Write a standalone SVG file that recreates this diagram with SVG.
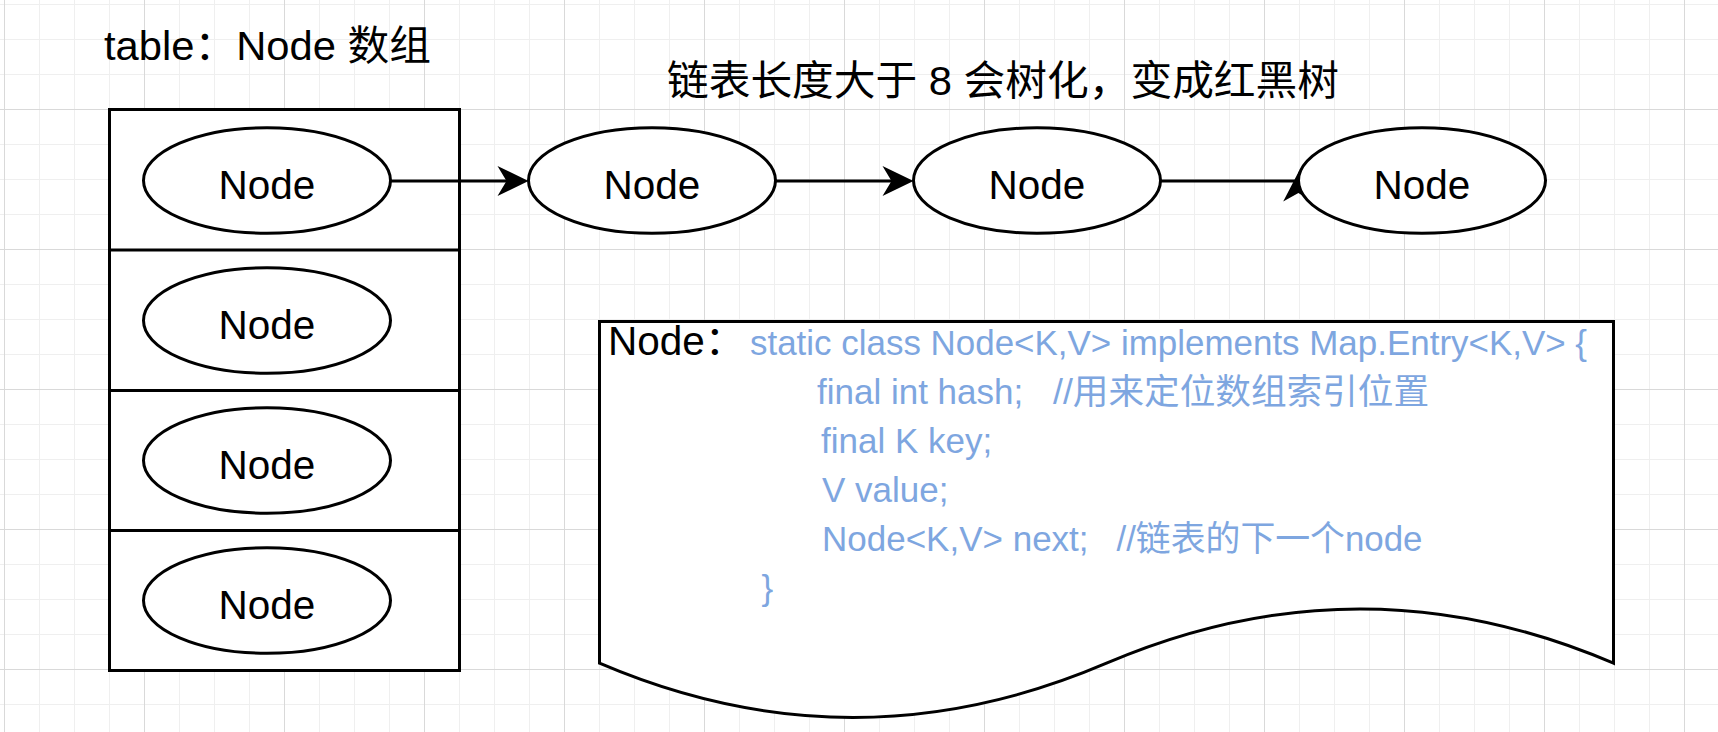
<svg xmlns="http://www.w3.org/2000/svg" width="1718" height="732" viewBox="0 0 1718 732">
<style>
.bg{fill:#ffffff}
.minor{stroke:#efefef;stroke-width:1;fill:none}
.major{stroke:#d9d9d9;stroke-width:1;fill:none}
.shape{fill:#ffffff;stroke:#000000;stroke-width:3}
.line{fill:none;stroke:#000000;stroke-width:3}
.edge{fill:none;stroke:#000000;stroke-width:3}
.head{fill:#000000;stroke:none}
.txt{font-family:"Liberation Sans","Noto Sans CJK SC",sans-serif;fill:#000000}
.lbl{font-size:40.5px;text-anchor:middle}
.title{font-size:41px}
.code{font-family:"Liberation Sans","Noto Sans CJK SC",sans-serif;font-size:35px;fill:#7EA6E0}
</style>
<defs>
<path id="ah" d="M0,0 L-31,-15 L-22,0 L-31,15 Z"/>
</defs>
<rect class="bg" x="0" y="0" width="1718" height="732"/>
<g id="grid">
<path class="minor" d="M39.5,0V732M74.5,0V732M109.5,0V732M179.5,0V732M214.5,0V732M249.5,0V732M319.5,0V732M354.5,0V732M389.5,0V732M459.5,0V732M494.5,0V732M529.5,0V732M599.5,0V732M634.5,0V732M669.5,0V732M739.5,0V732M774.5,0V732M809.5,0V732M879.5,0V732M914.5,0V732M949.5,0V732M1019.5,0V732M1054.5,0V732M1089.5,0V732M1159.5,0V732M1194.5,0V732M1229.5,0V732M1299.5,0V732M1334.5,0V732M1369.5,0V732M1439.5,0V732M1474.5,0V732M1509.5,0V732M1579.5,0V732M1614.5,0V732M1649.5,0V732M0,4.5H1718M0,39.5H1718M0,74.5H1718M0,144.5H1718M0,179.5H1718M0,214.5H1718M0,284.5H1718M0,319.5H1718M0,354.5H1718M0,424.5H1718M0,459.5H1718M0,494.5H1718M0,564.5H1718M0,599.5H1718M0,634.5H1718M0,704.5H1718"/>
<path class="major" d="M4.5,0V732M144.5,0V732M284.5,0V732M424.5,0V732M564.5,0V732M704.5,0V732M844.5,0V732M984.5,0V732M1124.5,0V732M1264.5,0V732M1404.5,0V732M1544.5,0V732M1684.5,0V732M0,109.5H1718M0,249.5H1718M0,389.5H1718M0,529.5H1718M0,669.5H1718"/>
</g>
<g id="table">
<rect class="shape" x="109.5" y="109.5" width="350" height="561"/>
<path class="line" d="M109.5,250H459.5M109.5,390.5H459.5M109.5,530.5H459.5"/>
</g>
<g id="connectors">
<path class="edge" d="M390.5,181H507"/>
<use href="#ah" class="head" transform="translate(528.5,181)"/>
<path class="edge" d="M775.5,181H892"/>
<use href="#ah" class="head" transform="translate(913.5,181)"/>
<path class="edge" d="M1160.5,181H1298"/>
<use href="#ah" class="head" transform="translate(1299,171) rotate(-88.5)"/>
</g>
<g id="node-cell-1">
<ellipse class="shape" cx="267" cy="180.5" rx="123.5" ry="52.8"/>
<text class="txt lbl" x="267" y="199">Node</text>
</g>
<g id="node-cell-2">
<ellipse class="shape" cx="267" cy="320.5" rx="123.5" ry="52.8"/>
<text class="txt lbl" x="267" y="339">Node</text>
</g>
<g id="node-cell-3">
<ellipse class="shape" cx="267" cy="460.5" rx="123.5" ry="52.8"/>
<text class="txt lbl" x="267" y="479">Node</text>
</g>
<g id="node-cell-4">
<ellipse class="shape" cx="267" cy="600.5" rx="123.5" ry="52.8"/>
<text class="txt lbl" x="267" y="619">Node</text>
</g>
<g id="node-chain-1">
<ellipse class="shape" cx="652" cy="180.5" rx="123.5" ry="52.8"/>
<text class="txt lbl" x="652" y="199">Node</text>
</g>
<g id="node-chain-2">
<ellipse class="shape" cx="1037" cy="180.5" rx="123.5" ry="52.8"/>
<text class="txt lbl" x="1037" y="199">Node</text>
</g>
<g id="node-chain-3">
<ellipse class="shape" cx="1422" cy="180.5" rx="123.5" ry="52.8"/>
<text class="txt lbl" x="1422" y="199">Node</text>
</g>
<g id="node-doc">
<path class="shape" d="M599.5,321.5H1613.5V663.2Q1360,554.7 1106.5,663.2Q853,771.7 599.5,663.2Z"/>
<text class="txt" font-size="40.5" x="608" y="355">Node：</text>
<text class="code" x="750" y="355" textLength="837" lengthAdjust="spacingAndGlyphs">static class Node&lt;K,V&gt; implements Map.Entry&lt;K,V&gt; {</text>
<text class="code" y="404"><tspan x="817">final int hash;</tspan><tspan x="1053" textLength="376" lengthAdjust="spacingAndGlyphs">//用来定位数组索引位置</tspan></text>
<text class="code" x="821" y="453">final K key;</text>
<text class="code" x="822" y="502">V value;</text>
<text class="code" y="551"><tspan x="822">Node&lt;K,V&gt; next;</tspan><tspan x="1116.5" textLength="306" lengthAdjust="spacingAndGlyphs">//链表的下一个node</tspan></text>
<text class="code" x="761.5" y="600">}</text>
</g>
<g id="title-table">
<text class="txt title" x="104" y="60" textLength="327" lengthAdjust="spacingAndGlyphs">table：Node 数组</text>
</g>
<g id="title-chain">
<text class="txt title" x="667" y="95" textLength="672" lengthAdjust="spacingAndGlyphs">链表长度大于 8 会树化，变成红黑树</text>
</g>
</svg>
